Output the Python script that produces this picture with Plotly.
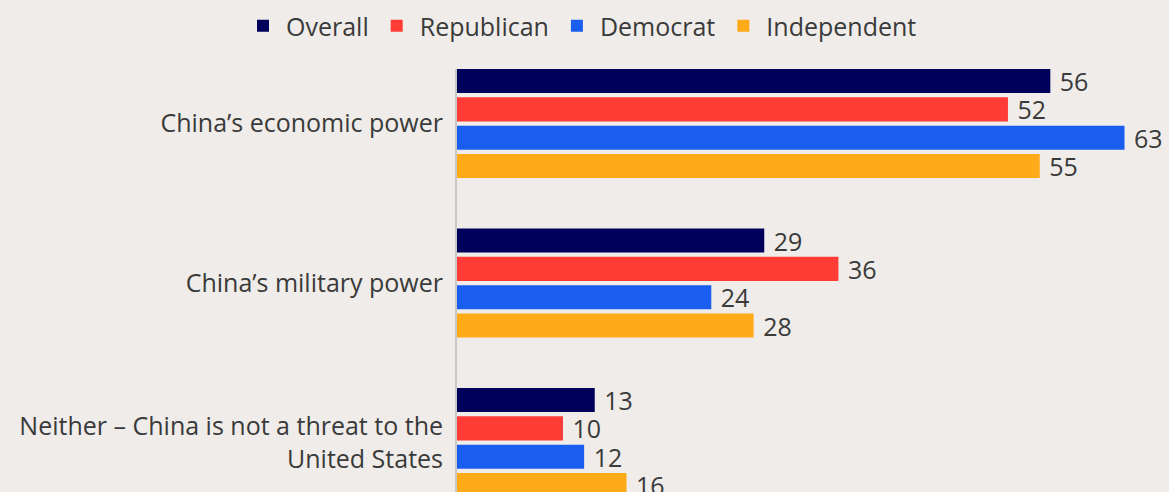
import plotly.graph_objects as go

categories = [
    "China’s economic power",
    "China’s military power",
    "Neither – China is not a threat to the<br>United States",
]
series_names = ["Overall", "Republican", "Democrat", "Independent"]
overall = [56, 29, 13]
republican = [52, 36, 10]
democrat = [63, 24, 12]
independent = [55, 28, 16]
colors = ["#00005A", "#FF3B36", "#1A5EF0", "#FFAB19"]

FONT = "'Open Sans', 'Noto Sans', sans-serif"
TEXT = "#3A3A3A"
BG = "#EFECE9"

fig = go.Figure()
for name, vals, col in zip(series_names, [overall, republican, democrat, independent], colors):
    fig.add_trace(go.Bar(
        name=name,
        y=categories,
        x=vals,
        orientation="h",
        marker=dict(color=col, line=dict(width=0)),
        text=vals,
        texttemplate="\u00a0%{x}",
        textposition="outside",
        constraintext="none",
        cliponaxis=False,
        textfont=dict(family=FONT, size=25, color=TEXT),
    ))

fig.update_layout(
    width=1169,
    height=492,
    paper_bgcolor=BG,
    plot_bgcolor=BG,
    barmode="group",
    bargap=0.29,
    bargroupgap=0.15,
    margin=dict(l=457, r=0, t=69, b=0),
    font=dict(family=FONT, size=25, color=TEXT),
    showlegend=True,
    legend=dict(
        orientation="h",
        xref="container",
        yref="container",
        x=0.497,
        xanchor="center",
        y=1 - 26 / 492,
        yanchor="middle",
        font=dict(family=FONT, size=25, color=TEXT),
        bgcolor="rgba(0,0,0,0)",
        itemclick=False,
        itemwidth=36,
    ),
    xaxis=dict(
        range=[0, 67.2],
        visible=False,
        showgrid=False,
        zeroline=False,
    ),
    yaxis=dict(
        range=[2.310, -0.342],
        showgrid=False,
        zeroline=False,
        showline=True,
        linecolor="#C8C8C8",
        linewidth=2,
        ticks="",
        ticklabelstandoff=7,
        tickfont=dict(family=FONT, size=25, color=TEXT),
    ),
)

fig.write_html("out.html")
